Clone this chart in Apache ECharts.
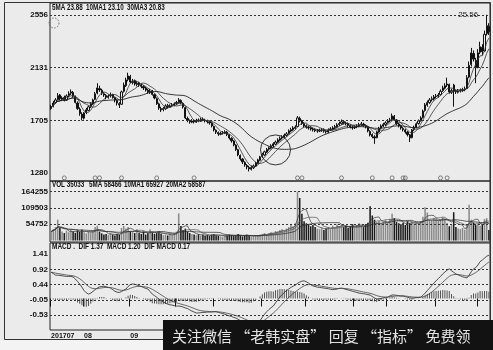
<!DOCTYPE html>
<html><head><meta charset="utf-8">
<script src="https://cdn.jsdelivr.net/npm/echarts@6.0.0/dist/echarts.min.js"></script>
<style>html,body{margin:0;padding:0;background:#ebebeb;}#c{width:493px;height:350px;}</style>
</head><body><div id="c"></div>
<script>
// ---- data ----
const ohlc = [
[1800,1814,1790,1830],[1818,1845,1810,1862],[1850,1870,1838,1885],[1872,1905,1865,1925],[1910,1880,1868,1918],
[1875,1886,1860,1900],[1890,1872,1858,1905],[1868,1902,1862,1915],[1905,1920,1893,1940],[1925,1935,1910,1955],
[1930,1900,1890,1942],[1898,1850,1842,1905],[1845,1800,1790,1858],[1795,1760,1742,1810],[1755,1725,1705,1770],
[1722,1765,1712,1772],[1768,1790,1755,1805],[1785,1814,1778,1825],[1818,1840,1805,1852],[1838,1870,1830,1880],
[1875,1920,1868,1935],[1925,1967,1915,2005],[1962,1951,1935,1985],[1948,1925,1910,1960],[1920,1910,1895,1932],
[1905,1894,1875,1918],[1890,1902,1880,1915],[1905,1910,1890,1930],[1912,1890,1880,1920],[1888,1870,1850,1895],
[1865,1845,1825,1875],[1840,1830,1805,1852],[1835,1935,1830,1945],[1940,1990,1930,2010],[1985,2031,1975,2050],
[2035,2064,2020,2090],[2060,2015,2005,2072],[2010,2020,1995,2040],[2025,1999,1985,2035],[1995,2005,1980,2020],
[2008,1991,1975,2018],[1990,1980,1965,2002],[1978,1967,1950,1990],[1965,1950,1938,1975],[1948,1935,1920,1960],
[1930,1940,1918,1958],[1942,1915,1905,1950],[1912,1886,1875,1922],[1880,1840,1830,1890],[1838,1805,1790,1848],
[1800,1789,1772,1815],[1792,1800,1778,1812],[1798,1822,1790,1835],[1825,1815,1800,1838],[1812,1822,1805,1835],
[1825,1830,1812,1845],[1828,1838,1818,1850],[1840,1850,1830,1862],[1848,1870,1840,1885],[1865,1845,1835,1875],
[1842,1814,1800,1850],[1808,1725,1715,1812],[1720,1705,1690,1735],[1700,1693,1678,1712],[1690,1700,1682,1715],
[1705,1693,1680,1712],[1690,1705,1685,1718],[1708,1701,1690,1720],[1698,1712,1692,1725],[1715,1709,1698,1728],
[1706,1701,1688,1718],[1700,1695,1680,1710],[1692,1685,1670,1702],[1682,1660,1648,1690],[1655,1628,1615,1662],
[1625,1610,1595,1632],[1606,1596,1580,1615],[1592,1600,1585,1612],[1602,1604,1590,1618],[1600,1612,1594,1625],
[1610,1590,1578,1620],[1588,1563,1550,1595],[1560,1540,1525,1568],[1538,1507,1495,1545],[1505,1470,1458,1512],
[1468,1426,1415,1475],[1420,1395,1380,1430],[1392,1370,1352,1400],[1365,1345,1330,1375],[1340,1329,1310,1352],
[1325,1313,1292,1338],[1310,1325,1300,1340],[1322,1337,1312,1348],[1335,1360,1328,1370],[1358,1386,1350,1395],
[1382,1410,1375,1418],[1412,1430,1400,1442],[1425,1451,1418,1460],[1448,1470,1440,1482],[1472,1483,1460,1495],
[1480,1500,1470,1512],[1498,1515,1488,1528],[1512,1530,1505,1542],[1528,1547,1520,1560],[1545,1560,1535,1575],
[1562,1571,1550,1585],[1568,1585,1560,1598],[1582,1596,1572,1610],[1598,1620,1590,1632],[1618,1630,1608,1645],
[1628,1644,1620,1658],[1640,1650,1632,1665],[1655,1725,1650,1740],[1720,1700,1688,1735],[1702,1680,1668,1710],
[1678,1660,1648,1690],[1662,1650,1638,1672],[1648,1644,1630,1660],[1645,1635,1622,1655],[1632,1628,1615,1645],
[1630,1622,1610,1640],[1620,1620,1605,1635],[1618,1625,1610,1638],[1626,1628,1612,1642],[1630,1618,1605,1640],
[1615,1612,1598,1625],[1610,1628,1602,1640],[1630,1636,1620,1650],[1634,1644,1625,1658],[1646,1655,1635,1668],
[1652,1669,1645,1682],[1670,1680,1660,1695],[1678,1693,1670,1712],[1695,1685,1672,1705],[1682,1677,1665,1695],
[1678,1665,1650,1688],[1662,1652,1640,1672],[1650,1644,1630,1662],[1645,1652,1635,1665],[1655,1660,1642,1672],
[1658,1670,1650,1685],[1672,1677,1660,1692],[1675,1665,1652,1685],[1662,1652,1640,1672],[1650,1620,1608,1658],
[1615,1588,1575,1625],[1590,1575,1560,1600],[1572,1563,1515,1585],[1565,1612,1560,1620],[1610,1640,1605,1652],
[1642,1660,1632,1672],[1658,1672,1650,1685],[1670,1685,1660,1698],[1688,1700,1678,1715],[1702,1709,1690,1725],
[1712,1741,1705,1760],[1738,1710,1700,1748],[1708,1677,1665,1715],[1675,1660,1648,1685],[1662,1644,1630,1670],
[1640,1630,1615,1650],[1628,1612,1598,1638],[1610,1590,1575,1618],[1588,1563,1530,1595],[1565,1628,1560,1635],
[1630,1650,1620,1662],[1648,1677,1640,1688],[1680,1700,1670,1712],[1702,1725,1695,1738],[1728,1780,1720,1792],
[1785,1830,1775,1845],[1828,1850,1815,1865],[1848,1870,1838,1885],[1872,1880,1858,1898],[1878,1894,1865,1910],
[1896,1902,1882,1918],[1900,1910,1888,1925],[1912,1940,1905,1955],[1945,1967,1935,1985],[1965,1985,1955,2005],
[1990,1999,1975,2050],[1995,1935,1920,2002],[1932,1945,1918,1960],[1990,1940,1815,2000],[1938,1935,1918,1952],
[1932,1943,1922,1958],[1945,1948,1930,1962],[1946,1951,1935,1968],[1952,1960,1940,1978],[1962,2050,1958,2070],
[2055,2150,2045,2180],[2155,2250,2140,2290],[2245,2200,2180,2270],[2190,2130,2005,2210],[2135,2250,2125,2280],
[2255,2300,2240,2340],[2295,2260,2230,2320],[2265,2400,2260,2430],[2405,2470,2390,2556],[2465,2420,2395,2490]
];
const volume = [
30000,38000,45000,70000,42000,30000,25000,33000,28000,35000,
30000,26000,34000,29000,36000,28000,24000,30000,27000,32000,
45000,50000,30000,24000,20000,22000,18000,25000,20000,17000,
22000,19000,42000,49000,40000,45000,30000,28000,25000,38000,
26000,22000,30000,20000,24000,38000,27000,22000,25000,30000,
23000,18000,20000,17000,22000,19000,24000,30000,91000,49000,
35000,40000,30000,25000,22000,20000,18000,21000,17000,19000,
16000,18000,15000,20000,22000,18000,16000,14000,13000,15000,
17000,20000,18000,15000,16000,22000,17000,14000,16000,19000,
15000,13000,15000,18000,16000,20000,22000,25000,19000,24000,
28000,26000,32000,30000,35000,38000,33000,40000,45000,52000,
48000,58000,164000,143000,90000,65000,58000,55000,48000,52000,
45000,40000,38000,42000,35000,40000,45000,38000,50000,42000,
55000,48000,52000,45000,50000,42000,48000,55000,45000,52000,
58000,50000,45000,55000,60000,115000,84000,70000,62000,65000,
58000,62000,68000,60000,72000,90000,75000,62000,58000,55000,
60000,52000,65000,58000,62000,55000,60000,58000,65000,80000,
112000,94000,70000,68000,75000,72000,66000,70000,78000,73000,
60000,48000,52000,95000,45000,40000,38000,42000,36000,55000,
120000,70000,60000,52000,55000,50000,55000,72000,75000,35033
];
const dif = [
0.83,0.79,0.74,0.74,0.73,0.72,0.71,0.70,0.70,0.70,
0.68,0.62,0.54,0.46,0.36,0.25,0.18,0.14,0.17,0.22,
0.28,0.33,0.37,0.38,0.39,0.37,0.35,0.33,0.28,0.23,
0.20,0.19,0.22,0.26,0.30,0.38,0.44,0.46,0.45,0.43,
0.40,0.38,0.35,0.32,0.30,0.22,0.14,0.09,0.04,-0.02,
-0.07,-0.11,-0.15,-0.18,-0.20,-0.21,-0.23,-0.24,-0.24,-0.25,
-0.27,-0.30,-0.32,-0.36,-0.40,-0.43,-0.46,-0.46,-0.45,-0.44,
-0.44,-0.43,-0.43,-0.43,-0.42,-0.42,-0.44,-0.46,-0.48,-0.50,
-0.53,-0.55,-0.57,-0.60,-0.62,-0.66,-0.70,-0.74,-0.77,-0.80,
-0.85,-0.88,-0.86,-0.83,-0.78,-0.70,-0.60,-0.50,-0.42,-0.35,
-0.29,-0.24,-0.14,-0.05,0.05,0.12,0.19,0.25,0.30,0.35,
0.39,0.42,0.48,0.52,0.55,0.56,0.53,0.49,0.44,0.40,
0.38,0.36,0.35,0.34,0.33,0.32,0.31,0.29,0.28,0.29,
0.30,0.32,0.33,0.31,0.29,0.27,0.25,0.23,0.21,0.19,
0.17,0.16,0.15,0.14,0.12,0.11,0.06,0.02,-0.02,-0.01,
0.00,0.02,0.03,0.04,0.08,0.11,0.11,0.10,0.09,0.08,
0.08,0.06,0.04,0.02,0.01,0.02,0.03,0.03,0.04,0.10,
0.17,0.25,0.33,0.41,0.49,0.56,0.63,0.70,0.78,0.84,
0.90,0.94,0.88,0.83,0.78,0.75,0.72,0.69,0.67,0.65,
0.74,0.85,0.94,0.98,1.06,1.17,1.22,1.28,1.34,1.37
];
const priceTicks = [2556, 2131, 1705, 1280];
const priceGridTicks = [2556, 2131, 1705];
const volTicks = [164255, 109503, 54752];
const macdTicks = [1.41, 0.92, 0.44, -0.05, -0.53];
const macdGridTicks = [0.92, 0.44, -0.05, -0.53];
const monthLabels = {0:'201707',15:'08',36:'09',57:'10',74:'11',96:'12',116:'201801',138:'02',153:'03',175:'04',194:'05'};
const eventIdx = [6,20,22,32,48,65,112,114,132,146,155,160,161,177,180];
const priceLegend = ['5MA 23.88','10MA1 23.10','30MA3 20.83'];
const volLegend = ['VOL 35033','5MA 58466','10MA1 65927','20MA2 58587'];
const macdLegend = 'MACD .  DIF 1.37  MACD 1.20  DIF MACD 0.17';
const highLabel = '25.56';

// ---- derived ----
const categories = ohlc.map((_, i) => String(i));
const closes = ohlc.map(d => d[1]);
function ma(arr, n) {
  return arr.map((_, i) => {
    const s = Math.max(0, i - n + 1); let t = 0;
    for (let k = s; k <= i; k++) t += arr[k];
    return +(t / (i - s + 1)).toFixed(2);
  });
}
const dea = [];
dif.forEach((v, i) => dea.push(i === 0 ? v : dea[i - 1] + (v - dea[i - 1]) * 0.2));
const hist = dif.map((v, i) => +(v - dea[i]).toFixed(3));
let hiIdx = 0; ohlc.forEach((d, i) => { if (d[3] > ohlc[hiIdx][3]) hiIdx = i; });

const FONT = '"Liberation Sans", Arial, sans-serif';
const dark = '#111';
const dashLine = (vals) => ({
  silent: true, symbol: ['none', 'none'], label: {show: false}, animation: false,
  lineStyle: {type: [2, 2], color: '#333', width: 1}, data: vals.map(v => ({yAxis: v}))
});
const lineS = (name, data, xi, w, c) => ({
  name, type: 'line', xAxisIndex: xi, yAxisIndex: xi, data, symbol: 'none', smooth: false,
  lineStyle: {width: w, color: c}, silent: true, z: 3
});
const yLab = {fontFamily: FONT, fontSize: 8, fontWeight: 'bold', color: dark, margin: 2};
const legText = (x, y, text, sx) => ({type: 'text', x, y, scaleX: sx, z: 60, silent: true,
  style: {text, font: 'bold 8.5px ' + FONT, fill: dark, verticalAlign: 'middle'}});

const chart = echarts.init(document.getElementById('c'), null, {renderer: 'canvas', width: 493, height: 350});
chart.setOption({
  animation: false,
  backgroundColor: '#ebebeb',
  grid: [
    {left: 50, right: 3, top: 3, height: 178, show: true, borderColor: '#222', borderWidth: 1},
    {left: 50, right: 3, top: 181, height: 61, show: true, borderColor: '#222', borderWidth: 1},
    {left: 50, right: 3, top: 243, height: 87, show: true, borderColor: '#222', borderWidth: 1}
  ],
  xAxis: [0, 1, 2].map(g => ({
    type: 'category', gridIndex: g, data: categories, boundaryGap: true,
    axisLine: {show: false},
    axisTick: g === 2 ? {show: true, alignWithLabel: false, length: 8, interval: (i) => i in monthLabels, lineStyle: {color: dark}} : {show: false},
    axisLabel: g === 2 ? {show: true, interval: (i) => i in monthLabels, formatter: (v, i) => monthLabels[i] || '',
      align: 'left', margin: 3, fontFamily: FONT, fontSize: 7, fontWeight: 'bold', color: dark} : {show: false},
    splitLine: {show: false}
  })),
  yAxis: [
    {type: 'value', gridIndex: 0, min: 1215, max: 2653, splitLine: {show: false}, axisLine: {show: false}, axisTick: {show: false},
     axisLabel: Object.assign({customValues: priceTicks, formatter: v => String(v)}, yLab)},
    {type: 'value', gridIndex: 1, min: -5000, max: 200000, splitLine: {show: false}, axisLine: {show: false}, axisTick: {show: false},
     axisLabel: Object.assign({customValues: volTicks, formatter: v => String(v)}, yLab)},
    {type: 'value', gridIndex: 2, min: -1.0, max: 1.76, splitLine: {show: false}, axisLine: {show: false}, axisTick: {show: false},
     axisLabel: Object.assign({customValues: macdTicks, formatter: v => v.toFixed(2)}, yLab)}
  ],
  series: [
    {type: 'candlestick', xAxisIndex: 0, yAxisIndex: 0, data: ohlc, barWidth: '72%',
     itemStyle: {color: '#f2f2f2', color0: '#111', borderColor: '#111', borderColor0: '#111', borderWidth: 1},
     markLine: dashLine(priceGridTicks),
     markPoint: {silent: true, animation: false, data: [
       {coord: [String(hiIdx), ohlc[hiIdx][3]], symbol: 'circle', symbolSize: 1, itemStyle: {color: '#222'},
        label: {show: true, position: 'left', distance: 8, formatter: highLabel, fontFamily: FONT, fontSize: 8, color: '#222'}},
       {coord: ['102', 1466], symbol: 'circle', symbolSize: 30, itemStyle: {color: 'rgba(0,0,0,0)', borderColor: '#333', borderWidth: 1}, label: {show: false}}
     ]}
    },
    lineS('MA5', ma(closes, 5), 0, 0.8, '#333'),
    lineS('MA10', ma(closes, 10), 0, 0.8, '#333'),
    lineS('MA30', ma(closes, 30), 0, 0.9, '#222'),
    {type: 'scatter', xAxisIndex: 0, yAxisIndex: 0, data: eventIdx.map(i => [String(i), 1240]), symbol: 'circle', symbolSize: 4,
     itemStyle: {color: 'rgba(0,0,0,0)', borderColor: '#444', borderWidth: 0.8}, silent: true},
    {type: 'bar', xAxisIndex: 1, yAxisIndex: 1, data: volume.map((v, i) => ({value: v,
      itemStyle: {color: ohlc[i][1] >= ohlc[i][0] ? '#8a8a8a' : '#1a1a1a'}})), barWidth: '70%', silent: true,
     markLine: dashLine(volTicks)},
    lineS('VMA5', ma(volume, 5), 1, 0.7, '#333'),
    lineS('VMA10', ma(volume, 10), 1, 0.7, '#555'),
    lineS('VMA20', ma(volume, 20), 1, 0.7, '#222'),
    {type: 'bar', xAxisIndex: 2, yAxisIndex: 2, data: hist, barWidth: 1, itemStyle: {color: '#555'}, silent: true,
     markLine: dashLine(macdGridTicks)},
    lineS('DIF', dif, 2, 0.8, '#222'),
    lineS('DEA', dea.map(v => +v.toFixed(3)), 2, 0.8, '#444')
  ],
  graphic: [
    {type: 'rect', shape: {x: 0, y: 340, width: 493, height: 10}, style: {fill: '#f3f3f3'}, z: 0, silent: true},
    {type: 'rect', shape: {x: 4.5, y: 2.5, width: 486, height: 337}, style: {fill: 'none', stroke: '#333', lineWidth: 1}, z: 50, silent: true},
    {type: 'circle', shape: {cx: 54, cy: 23, r: 5}, style: {fill: 'none', stroke: '#555', lineWidth: 0.8, lineDash: [1.5, 1.5]}, z: 50, silent: true},
    legText(52, 8, priceLegend[0], 0.74),
    legText(86, 8, priceLegend[1], 0.74),
    legText(127, 8, priceLegend[2], 0.74),
    legText(52, 185, volLegend[0], 0.74),
    legText(89, 185, volLegend[1], 0.74),
    legText(124, 185, volLegend[2], 0.74),
    legText(166, 185, volLegend[3], 0.74),
    legText(52, 247, macdLegend, 0.76),
    {type: 'rect', shape: {x: 163, y: 320, width: 330, height: 30}, style: {fill: '#121212'}, z: 100, silent: true},
    {type: 'text', x: 172, y: 336, z: 101, silent: true,
     style: {text: '关注微信 “老韩实盘” 回复 “指标” 免费领', font: '15px "Noto Sans CJK SC"', fill: '#e4e4e4', verticalAlign: 'middle'}}
  ]
});
</script></body></html>
